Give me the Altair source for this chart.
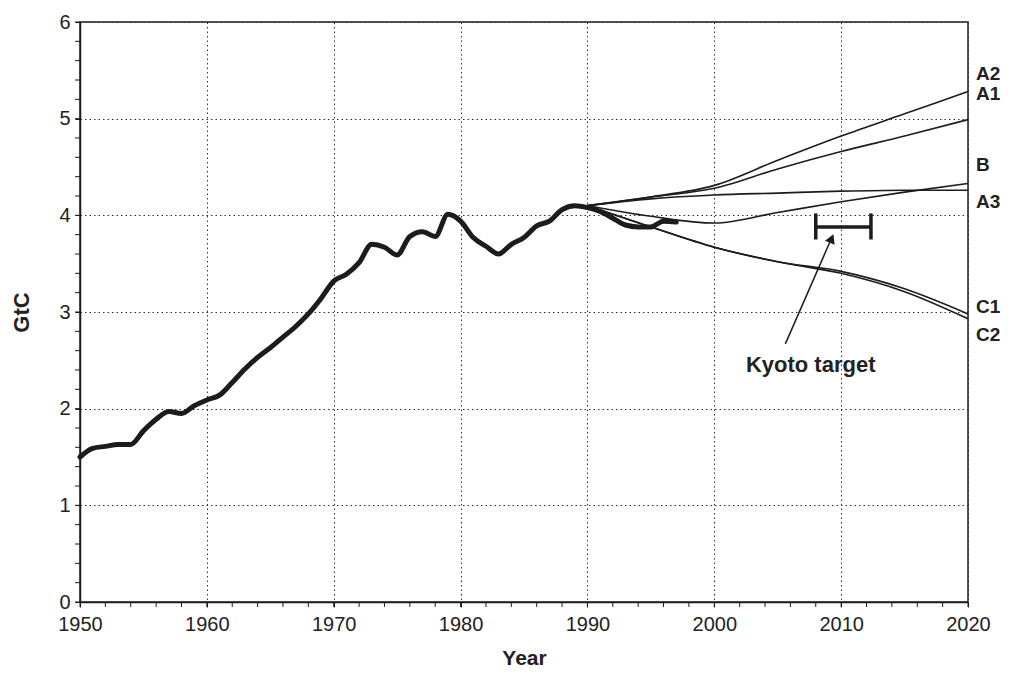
import altair as alt
import pandas as pd

# ---------------- data ----------------
hist_years = list(range(1950, 1998))
hist_vals = [1.50, 1.59, 1.61, 1.63, 1.63, 1.77, 1.89, 1.97, 1.95, 2.03,
             2.09, 2.14, 2.27, 2.41, 2.53, 2.63, 2.74, 2.85, 2.98, 3.14,
             3.32, 3.39, 3.51, 3.70, 3.67, 3.59, 3.78, 3.83, 3.78, 4.01,
             3.94, 3.77, 3.68, 3.60, 3.70, 3.77, 3.89, 3.94, 4.06, 4.10,
             4.08, 4.04, 3.97, 3.90, 3.88, 3.88, 3.94, 3.93]

scen_years = [1990, 1995, 2000, 2005, 2010, 2015, 2020]
scen_A2 = [4.10, 4.19, 4.31, 4.57, 4.82, 5.05, 5.28]
scen_A1 = [4.10, 4.19, 4.28, 4.48, 4.66, 4.82, 4.99]
scen_B = [4.10, 3.99, 3.92, 4.03, 4.14, 4.24, 4.33]
scen_A3 = [4.10, 4.17, 4.21, 4.23, 4.25, 4.26, 4.26]
scen_C1 = [4.10, 3.88, 3.67, 3.52, 3.42, 3.24, 2.98]
scen_C2 = [4.10, 3.88, 3.67, 3.52, 3.40, 3.21, 2.93]

label_names = ["A2", "A1", "B", "A3", "C1", "C2"]
label_vals = [5.46, 5.26, 4.52, 4.14, 3.05, 2.76]

kyoto_start = 2008.0
kyoto_end = 2012.35
kyoto_level = 3.88
kyoto_lo = 3.75
kyoto_hi = 4.02

arrow_years = [2005.6, 2009.2]
arrow_vals = [2.67, 3.75]
arrow_tip_year = [2009.25]
arrow_tip_val = [3.76]

kyoto_text = "Kyoto target"
kyoto_text_year = 2007.6
kyoto_text_val = 2.45

x_ticks = list(range(1950, 2021, 10))
y_ticks = [0, 1, 2, 3, 4, 5, 6]
x_minor = list(range(1950, 2021, 2))
y_minor = [round(i * 0.2, 1) for i in range(31)]

# ---------------- tables ----------------
hist_df = pd.DataFrame({"year": hist_years, "gtc": hist_vals})
scen_map = {"A2": scen_A2, "A1": scen_A1, "B": scen_B, "A3": scen_A3,
            "C1": scen_C1, "C2": scen_C2}
scen_df = pd.DataFrame([
    {"scenario": k, "year": y, "gtc": v}
    for k, vals in scen_map.items() for y, v in zip(scen_years, vals)
])
lab_df = pd.DataFrame({"name": label_names, "gtc": label_vals,
                       "year": [scen_years[-1]] * len(label_names)})
ky_df = pd.DataFrame({"year": [kyoto_start], "x2": [kyoto_end], "gtc": [kyoto_level]})
cap_df = pd.DataFrame({"year": [kyoto_start, kyoto_end], "gtc": [kyoto_lo] * 2,
                       "hi": [kyoto_hi] * 2})
arrow_df = pd.DataFrame({"year": arrow_years, "gtc": arrow_vals})
tip_df = pd.DataFrame({"year": arrow_tip_year, "gtc": arrow_tip_val})
ktext_df = pd.DataFrame({"year": [kyoto_text_year], "gtc": [kyoto_text_val],
                         "t": [kyoto_text]})
xminor_df = pd.DataFrame({"year": x_minor})
yminor_df = pd.DataFrame({"gtc": y_minor})

# ---------------- chart ----------------
W, H = 888, 580
FONT = "Liberation Sans"
INK = "#1c1c1c"

xs = alt.Scale(domain=[1950, 2020], nice=False, zero=False)
ys = alt.Scale(domain=[0, 6], nice=False, zero=False)

x_axis = alt.Axis(values=x_ticks, format="d", title="Year", grid=True,
                  gridDash=[1.5, 3], gridColor="#333", gridWidth=1,
                  tickSize=5, tickColor=INK, domainColor=INK, domainWidth=1.5,
                  labelFlush=False, labelOverlap=False,
                  labelFont=FONT, labelFontSize=20, labelColor="#222",
                  labelPadding=7, titleFont=FONT, titleFontSize=21,
                  titleFontWeight="bold", titleColor="#222", titlePadding=13)
y_axis = alt.Axis(values=y_ticks, format="d", title="GtC", grid=True,
                  gridDash=[1.5, 3], gridColor="#333", gridWidth=1,
                  tickSize=5, tickColor=INK, domainColor=INK, domainWidth=1.5,
                  labelFlush=False, labelOverlap=False,
                  labelFont=FONT, labelFontSize=20, labelColor="#222",
                  labelPadding=5, titleFont=FONT, titleFontSize=22,
                  titleFontWeight="bold", titleColor="#222", titlePadding=25)

X = alt.X("year:Q", scale=xs, axis=x_axis)
Y = alt.Y("gtc:Q", scale=ys, axis=y_axis)

hist = alt.Chart(hist_df).mark_line(
    color=INK, strokeWidth=5, interpolate="monotone", strokeCap="round"
).encode(x=X, y=Y)

scen = alt.Chart(scen_df).mark_line(
    color=INK, strokeWidth=1.6, interpolate="monotone"
).encode(x=X, y=Y, detail="scenario:N")

labels = alt.Chart(lab_df).mark_text(
    align="left", baseline="middle", dx=8, font=FONT, fontSize=19,
    fontWeight="bold", color="#222"
).encode(x=X, y=Y, text="name:N")

ky_bar = alt.Chart(ky_df).mark_rule(color=INK, strokeWidth=3.5).encode(
    x=X, x2="x2:Q", y=Y)
ky_caps = alt.Chart(cap_df).mark_rule(color=INK, strokeWidth=3.5).encode(
    x=X, y=Y, y2="hi:Q")

arrow = alt.Chart(arrow_df).mark_line(color=INK, strokeWidth=1.5).encode(x=X, y=Y)
tip = alt.Chart(tip_df).mark_point(
    shape="triangle-up", filled=True, size=110, angle=23, color=INK, opacity=1
).encode(x=X, y=Y)
ktext = alt.Chart(ktext_df).mark_text(
    align="center", baseline="middle", font=FONT, fontSize=22,
    fontWeight="bold", color="#222"
).encode(x=X, y=Y, text="t:N")

xminor = alt.Chart(xminor_df).mark_rule(color=INK, strokeWidth=1).encode(
    x=X, y=alt.value(H), y2=alt.value(H + 5))
yminor = alt.Chart(yminor_df).mark_rule(color=INK, strokeWidth=1).encode(
    y=Y, x=alt.value(-5), x2=alt.value(0))

chart = alt.layer(
    hist, scen, labels, ky_bar, ky_caps, arrow, tip, ktext, xminor, yminor
).properties(
    width=W, height=H,
    autosize=alt.AutoSizeParams(type="none"),
    padding={"left": 72, "top": 14, "right": 34, "bottom": 69},
    background="white",
).configure_view(
    stroke=INK, strokeWidth=1.5
)

chart.save("out.html", embed_options={"renderer": "svg", "actions": False})
